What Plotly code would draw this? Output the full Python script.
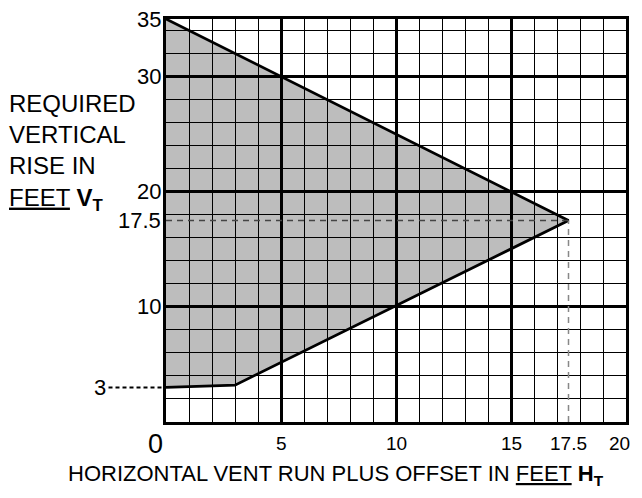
import plotly.graph_objects as go

# Region boundary (vent run H_T vs required rise V_T)
region_x = [0, 17.5, 3, 0]
region_y = [35, 17.5, 3.2, 3]

# Reference point
ref_x = 17.5
ref_y = 17.5

# Tick labels
x_ticks = [5, 10, 15, 17.5, 20]
x_ticklabels = ["5", "10", "15", "17.5", "20"]
y_ticks = [35, 30, 20, 17.5, 10]
y_ticklabels = ["35", "30", "20", "17.5", "10"]
y_min_label = 3

FONT = "Liberation Sans, Arial, sans-serif"

fig = go.Figure()

# Gray region (as a shape below gridlines)
path = "M " + " L ".join(f"{x},{y}" for x, y in zip(region_x, region_y)) + " Z"
fig.add_shape(type="path", path=path, xref="x", yref="y",
              fillcolor="#bdbdbd", line=dict(width=0), layer="below")

# Outline of region
fig.add_trace(go.Scatter(x=region_x, y=region_y, mode="lines",
                         line=dict(color="black", width=2.8),
                         hoverinfo="skip", showlegend=False))

# Dashed reference lines
fig.add_trace(go.Scatter(x=[0, ref_x], y=[ref_y, ref_y], mode="lines",
                         line=dict(color="#444444", width=1.3, dash="6px,5px"),
                         hoverinfo="skip", showlegend=False))
fig.add_trace(go.Scatter(x=[ref_x, ref_x], y=[0, ref_y], mode="lines",
                         line=dict(color="#888888", width=1.5, dash="6px,5px"),
                         hoverinfo="skip", showlegend=False))

# Dotted leader for minimum rise label
fig.add_shape(type="line", xref="paper", yref="paper",
              x0=-0.125, x1=-0.002, y0=y_min_label / 35, y1=y_min_label / 35,
              line=dict(color="black", width=2, dash="4px,3px"))

annotations = []
for v, t in zip(y_ticks, y_ticklabels):
    annotations.append(dict(x=0, xref="paper", y=v, yref="y", text=t,
                            showarrow=False, xanchor="right", xshift=-3,
                            font=dict(size=22, color="black", family=FONT)))
annotations.append(dict(x=0, xref="paper", y=y_min_label, yref="y", text=str(y_min_label),
                        showarrow=False, xanchor="right", xshift=-58,
                        font=dict(size=22, color="black", family=FONT)))
for v, t in zip(x_ticks, x_ticklabels):
    last = v == x_ticks[-1]
    annotations.append(dict(x=v, xref="x", y=0, yref="y", text=t,
                            showarrow=False, yanchor="top", yshift=-9,
                            xanchor="right" if last else "center",
                            xshift=6 if last else 0,
                            font=dict(size=19, color="black", family=FONT)))
annotations.append(dict(x=0, xref="x", y=0, yref="y", text="0",
                        showarrow=False, yanchor="top", xshift=-11, yshift=-5,
                        font=dict(size=27, color="black", family=FONT)))
# Axis titles
annotations.append(dict(x=0.5, xref="paper", y=0, yref="paper",
                        text="HORIZONTAL VENT RUN PLUS OFFSET IN <u>FEET</u> <b>H<sub>T</sub></b>",
                        showarrow=False, yanchor="top", yshift=-37, xshift=-60,
                        font=dict(size=22, color="black", family=FONT)))
annotations.append(dict(x=-0.3457, xref="paper", xanchor="left", y=0.83, yref="paper", yanchor="top",
                        text="REQUIRED<br>VERTICAL<br>RISE IN<br><u>FEET</u> <b>V<sub>T</sub></b>",
                        align="left", showarrow=False,
                        font=dict(size=24, color="black", family=FONT)))

# Page body has an 8px margin: shift/shrink the figure so the plot area sits
# where the reference has it and no scrollbar appears
fig.update_layout(
    width=634, height=482,
    margin=dict(l=158, r=16, t=8, b=68),
    paper_bgcolor="white", plot_bgcolor="white",
    annotations=annotations,
    xaxis=dict(range=[0, 20], tickmode="linear", tick0=0, dtick=5,
               showgrid=True, gridcolor="black", gridwidth=2.5,
               showticklabels=False, ticks="", zeroline=False,
               showline=True, linecolor="black", linewidth=3, mirror=True,
               minor=dict(tickmode="linear", tick0=0, dtick=1, showgrid=True,
                          gridcolor="black", gridwidth=1.3, ticks="")),
    yaxis=dict(range=[0, 35], tickmode="linear", tick0=0, dtick=10,
               showgrid=True, gridcolor="black", gridwidth=2.5,
               showticklabels=False, ticks="", zeroline=False,
               showline=True, linecolor="black", linewidth=3, mirror=True,
               minor=dict(tickmode="linear", tick0=0, dtick=2, showgrid=True,
                          gridcolor="black", gridwidth=1.3, ticks="")),
)

fig.write_html("out.html")
